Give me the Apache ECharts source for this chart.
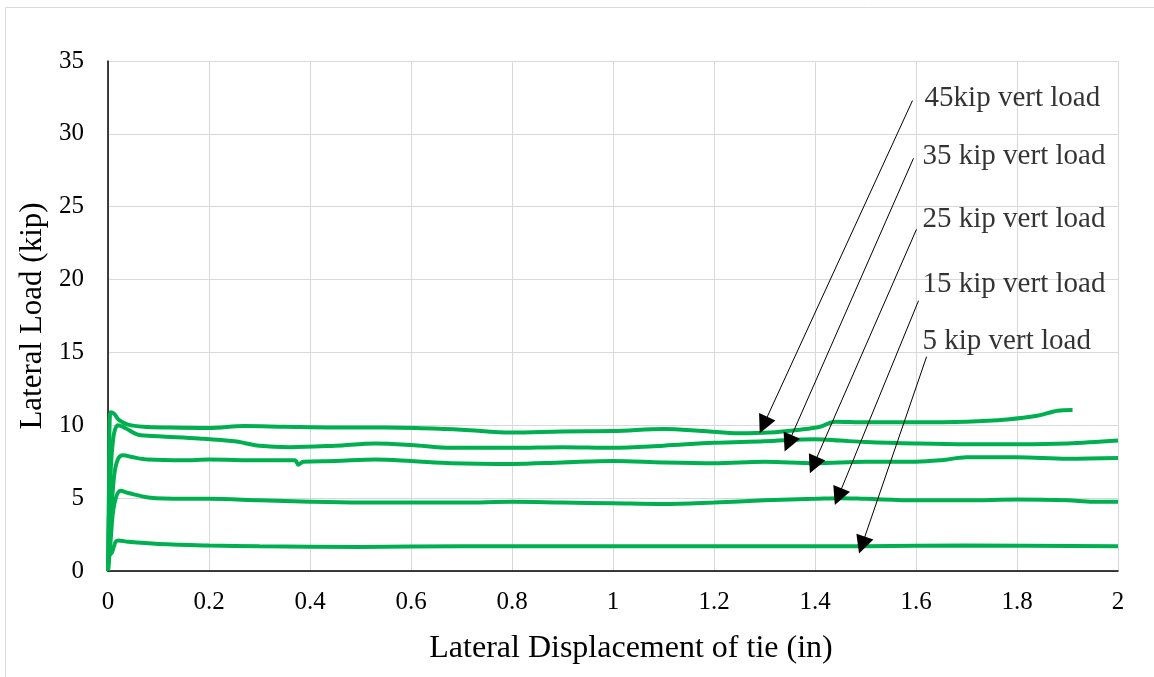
<!DOCTYPE html>
<html>
<head>
<meta charset="utf-8">
<script src="https://cdn.jsdelivr.net/npm/echarts@6/dist/echarts.min.js"></script>
<style>
  html, body { margin: 0; padding: 0; background: #ffffff; }
  #chart { width: 1154px; height: 677px; }
</style>
</head>
<body>
<div id="chart"></div>
<script>
// Lateral load vs. lateral displacement of tie, one curve per vertical load
const kip45 = [[0,0],[0.002,6],[0.005,10.9],[0.012,10.8],[0.022,10.35],[0.04,10.05],[0.07,9.9],[0.12,9.85],[0.2,9.82],[0.27,9.95],[0.35,9.9],[0.45,9.85],[0.55,9.85],[0.62,9.8],[0.7,9.7],[0.8,9.5],[0.9,9.58],[1.0,9.6],[1.1,9.75],[1.18,9.6],[1.25,9.45],[1.31,9.5],[1.37,9.7],[1.41,9.9],[1.44,10.25],[1.5,10.2],[1.6,10.2],[1.7,10.25],[1.78,10.4],[1.84,10.65],[1.88,11.0],[1.91,11.05]];
const kip35 = [[0,0],[0.003,5],[0.01,9],[0.02,10.0],[0.035,9.8],[0.06,9.35],[0.1,9.25],[0.18,9.1],[0.25,8.9],[0.3,8.6],[0.36,8.5],[0.45,8.6],[0.53,8.75],[0.6,8.65],[0.68,8.45],[0.8,8.45],[0.9,8.5],[1.0,8.45],[1.1,8.6],[1.2,8.8],[1.3,8.9],[1.4,9.05],[1.45,8.95],[1.5,8.85],[1.6,8.75],[1.7,8.7],[1.8,8.7],[1.9,8.75],[2.0,8.95]];
const kip25 = [[0,0],[0.005,3],[0.012,6.5],[0.02,7.7],[0.03,7.95],[0.05,7.8],[0.08,7.65],[0.15,7.6],[0.2,7.65],[0.3,7.6],[0.37,7.6],[0.377,7.3],[0.387,7.5],[0.45,7.55],[0.53,7.65],[0.6,7.55],[0.68,7.4],[0.8,7.35],[0.9,7.45],[1.0,7.55],[1.1,7.45],[1.2,7.4],[1.3,7.5],[1.4,7.4],[1.5,7.5],[1.6,7.5],[1.65,7.6],[1.7,7.8],[1.8,7.8],[1.9,7.7],[2.0,7.75]];
const kip15 = [[0,0],[0.005,2],[0.012,4.5],[0.025,5.5],[0.04,5.35],[0.08,5.05],[0.15,4.95],[0.2,4.95],[0.3,4.85],[0.4,4.75],[0.5,4.7],[0.6,4.7],[0.7,4.7],[0.8,4.75],[0.9,4.7],[1.0,4.65],[1.1,4.6],[1.2,4.7],[1.3,4.85],[1.4,4.95],[1.45,5.0],[1.5,4.95],[1.6,4.85],[1.7,4.85],[1.8,4.9],[1.9,4.85],[1.95,4.75],[2.0,4.75]];
const kip5 = [[0,0],[0.002,1.0],[0.008,1.3],[0.015,2.0],[0.02,2.1],[0.04,2.0],[0.1,1.85],[0.2,1.75],[0.3,1.7],[0.5,1.65],[0.7,1.7],[1.0,1.7],[1.3,1.7],[1.5,1.7],[1.7,1.75],[2.0,1.7]];

// Callout text, where each text sits, and the arrow from text to curve
const calloutText = ['45kip vert load', '35 kip vert load', '25 kip vert load', '15 kip vert load', '5 kip vert load'];
const calloutAt = [[1.616,32.46],[1.612,28.48],[1.612,24.16],[1.612,19.70],[1.612,15.78]];
const arrowFrom = [[1.593,32.28],[1.595,28.32],[1.601,23.45],[1.605,18.55],[1.621,14.71]];
const arrowTo = [[1.298,10.02],[1.347,8.76],[1.397,7.27],[1.446,5.10],[1.493,1.78]];

const GREEN = '#00b050';
const FONT = "'Liberation Serif', 'Times New Roman', serif";

function curve(name, data) {
  return {
    name, type: 'line', data,
    showSymbol: false, smooth: 0.35,
    lineStyle: { color: GREEN, width: 4 },
    itemStyle: { color: GREEN },
    z: 3
  };
}

const chart = echarts.init(document.getElementById('chart'), null, { renderer: 'canvas' });
chart.setOption({
  animation: false,
  backgroundColor: '#ffffff',
  graphic: [{
    type: 'rect', silent: true, z: -1,
    shape: { x: 5.5, y: 7.5, width: 1200, height: 700 },
    style: { fill: 'none', stroke: '#d9d9d9', lineWidth: 1 }
  }],
  grid: { left: 108, right: 36, top: 61, bottom: 106 },
  xAxis: {
    type: 'value', min: 0, max: 2, interval: 0.2,
    name: 'Lateral Displacement of tie (in)',
    nameLocation: 'middle', nameGap: 62,
    nameTextStyle: { fontFamily: FONT, fontSize: 32, color: '#000', padding: [0, 0, 0, 36] },
    axisLine: { onZero: false, lineStyle: { color: '#000', width: 1.5 } },
    axisTick: { show: false },
    axisLabel: { fontFamily: FONT, fontSize: 25, color: '#000', margin: 19,
                 formatter: v => String(+v.toFixed(1)) },
    splitLine: { show: true, lineStyle: { color: '#d9d9d9', width: 1 } }
  },
  yAxis: {
    type: 'value', min: 0, max: 35, interval: 5,
    name: 'Lateral Load (kip)',
    nameLocation: 'middle', nameGap: 57,
    nameTextStyle: { fontFamily: FONT, fontSize: 31, color: '#000' },
    axisLine: { show: true, onZero: false, lineStyle: { color: '#000', width: 1.5 } },
    axisTick: { show: false },
    axisLabel: { fontFamily: FONT, fontSize: 25, color: '#000', margin: 24 },
    splitLine: { show: true, lineStyle: { color: '#d9d9d9', width: 1 } }
  },
  series: [
    curve('45 kip', kip45),
    curve('35 kip', kip35),
    curve('25 kip', kip25),
    curve('15 kip', kip15),
    curve('5 kip', kip5),
    {
      name: 'callouts', type: 'scatter', symbolSize: 1, z: 5,
      itemStyle: { color: 'rgba(0,0,0,0)' },
      data: calloutAt.map((p, i) => ({ value: p, label: { formatter: calloutText[i] } })),
      label: { show: true, position: 'right', distance: 0,
               fontFamily: FONT, fontSize: 29, color: '#000' },
      markLine: {
        silent: true, animation: false,
        symbol: ['none', 'triangle'], symbolSize: 18,
        itemStyle: { color: '#000' },
        label: { show: false },
        lineStyle: { color: '#000', width: 1, type: 'solid' },
        data: arrowFrom.map((p, i) => [{ coord: p }, { coord: arrowTo[i] }])
      }
    }
  ]
});
</script>
</body>
</html>
